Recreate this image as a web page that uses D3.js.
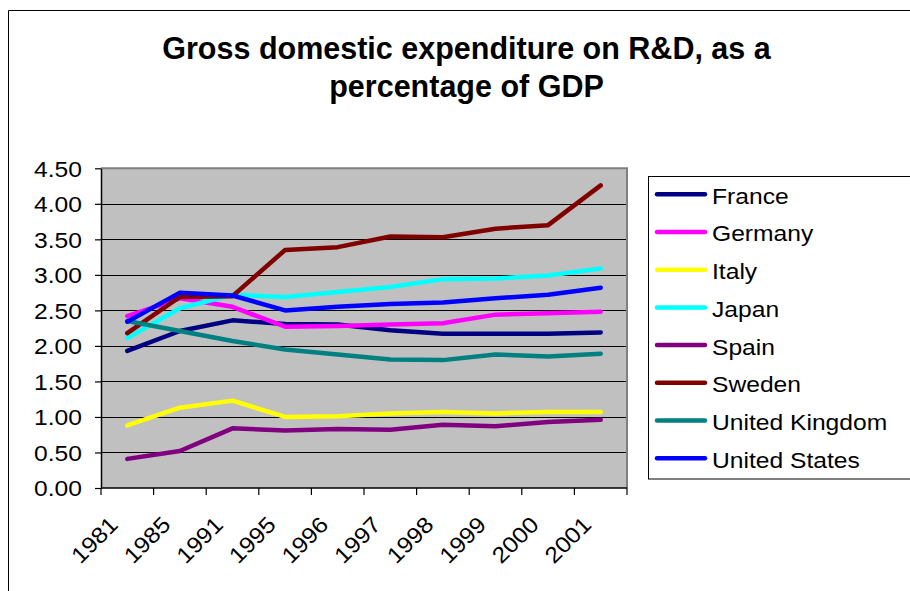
<!DOCTYPE html>
<html>
<head>
<meta charset="utf-8">
<script src="https://cdn.jsdelivr.net/npm/d3@7"></script>
<style>
  html, body { margin: 0; padding: 0; background: #fff; }
  svg { display: block; font-family: "Liberation Sans", Arial, sans-serif; }
</style>
</head>
<body>
<svg id="chart" width="910" height="591"></svg>
<script>
// ---- data ----
const years = ["1981","1985","1991","1995","1996","1997","1998","1999","2000","2001"];
const france  = [1.93,2.21,2.36,2.31,2.30,2.22,2.17,2.17,2.17,2.19];
const germany = [2.42,2.67,2.55,2.27,2.28,2.30,2.32,2.44,2.46,2.48];
const italy   = [0.88,1.13,1.23,1.00,1.01,1.05,1.07,1.05,1.07,1.07];
const japan   = [2.11,2.53,2.72,2.69,2.76,2.83,2.94,2.95,2.99,3.09];
const spain   = [0.41,0.52,0.84,0.81,0.83,0.82,0.89,0.87,0.93,0.96];
const sweden  = [2.18,2.69,2.70,3.35,3.39,3.54,3.53,3.65,3.70,4.26];
const uk      = [2.35,2.21,2.07,1.95,1.88,1.81,1.80,1.88,1.85,1.89];
const us      = [2.34,2.75,2.71,2.50,2.55,2.59,2.61,2.67,2.72,2.82];
const seriesNames  = ["France","Germany","Italy","Japan","Spain","Sweden","United Kingdom","United States"];
const seriesValues = [france, germany, italy, japan, spain, sweden, uk, us];
const seriesColors = ["#000080","#FF00FF","#FFFF00","#00FFFF","#800080","#800000","#008080","#0000FF"];
const yTicks = [0,0.5,1,1.5,2,2.5,3,3.5,4,4.5];
const titleLines = ["Gross domestic expenditure on R&D, as a", "percentage of GDP"];

// ---- layout ----
const svg = d3.select("#chart");
const plot = {left: 101, right: 627, top: 168.3, bottom: 488};
const stretch = 1.1;
const labelSize = 22.4;

// outer chart frame (cropped on the right/bottom)
svg.append("path").attr("d", "M8.5,595 V10.5 H915")
  .attr("fill", "none").attr("stroke", "#000").attr("stroke-width", 1);

// title
svg.append("g").selectAll("text").data(titleLines).join("text")
  .attr("x", 466.5).attr("y", (d, i) => 58.5 + i * 38.5)
  .attr("text-anchor", "middle").attr("font-weight", "bold").attr("font-size", 30.5)
  .attr("fill", "#000").text(d => d);

const x = d3.scaleBand().domain(years).range([plot.left, plot.right]);
const y = d3.scaleLinear().domain([0, 4.5]).range([plot.bottom, plot.top]);
const cx = d => x(d) + x.bandwidth() / 2;

// plot background
svg.append("rect").attr("x", plot.left).attr("y", plot.top)
  .attr("width", plot.right - plot.left).attr("height", plot.bottom - plot.top)
  .attr("fill", "#C0C0C0");

// gridlines
svg.append("g").selectAll("line").data(yTicks.filter(v => v > 0 && v < 4.5)).join("line")
  .attr("x1", plot.left).attr("x2", plot.right)
  .attr("y1", d => Math.round(y(d)) + 0.5).attr("y2", d => Math.round(y(d)) + 0.5)
  .attr("stroke", "#000").attr("stroke-width", 1);

// plot border top/right (gray)
svg.append("path")
  .attr("d", `M${plot.left},${plot.top} H${plot.right} V${plot.bottom}`)
  .attr("fill", "none").attr("stroke", "#808080").attr("stroke-width", 2);

// y axis
const yAxis = svg.append("g").attr("transform", `translate(${plot.left},0)`)
  .call(d3.axisLeft(y).tickValues(yTicks).tickFormat(d3.format(".2f")).tickSize(6).tickSizeOuter(0).tickPadding(0));
yAxis.select(".domain").attr("stroke", "#000").attr("stroke-width", 1.5);
yAxis.selectAll(".tick line").attr("stroke", "#000").attr("stroke-width", 1.2);
yAxis.selectAll(".tick text")
  .attr("x", 0).attr("dy", "0.35em")
  .attr("transform", `translate(-19,0) scale(${stretch},1)`)
  .attr("font-size", labelSize).attr("font-family", "Liberation Sans, Arial, sans-serif")
  .attr("fill", "#000");

// x axis (Excel-style ticks between categories)
const xAxisG = svg.append("g");
xAxisG.append("line").attr("x1", plot.left).attr("x2", plot.right)
  .attr("y1", plot.bottom).attr("y2", plot.bottom)
  .attr("stroke", "#000").attr("stroke-width", 1.5);
const edges = years.map(d => x(d)).concat([x.range()[1]]);
xAxisG.selectAll("line.tk").data(edges).join("line").attr("class", "tk")
  .attr("x1", d => d).attr("x2", d => d)
  .attr("y1", plot.bottom).attr("y2", plot.bottom + 7)
  .attr("stroke", "#000").attr("stroke-width", 1.2);
xAxisG.selectAll("text").data(years).join("text")
  .attr("transform", d => `translate(${cx(d) - 8},${plot.bottom + 38}) rotate(-45) scale(${stretch},1)`)
  .attr("text-anchor", "end").attr("font-size", labelSize).attr("fill", "#000")
  .text(d => d);

// lines
const line = d3.line().x((v, i) => cx(years[i])).y(v => y(v));
svg.append("g").selectAll("path").data(seriesValues).join("path")
  .attr("d", d => line(d))
  .attr("fill", "none")
  .attr("stroke", (d, i) => seriesColors[i])
  .attr("stroke-width", 4.5)
  .attr("stroke-linecap", "round").attr("stroke-linejoin", "round");

// legend
const lg = svg.append("g");
lg.append("rect").attr("x", 648.5).attr("y", 176.5).attr("width", 262).attr("height", 302.5)
  .attr("fill", "#fff").attr("stroke", "#000").attr("stroke-width", 1);
const rows = lg.selectAll("g.row").data(seriesNames).join("g").attr("class", "row")
  .attr("transform", (d, i) => `translate(0,${194.3 + i * 37.7})`);
rows.append("line").attr("x1", 657).attr("x2", 705).attr("y1", 0).attr("y2", 0)
  .attr("stroke", (d, i) => seriesColors[i]).attr("stroke-width", 4.5).attr("stroke-linecap", "round");
rows.append("text")
  .attr("transform", `translate(712,0) scale(${stretch},1)`)
  .attr("dy", "0.42em").attr("font-size", labelSize).attr("fill", "#000")
  .text(d => d);
</script>
</body>
</html>
